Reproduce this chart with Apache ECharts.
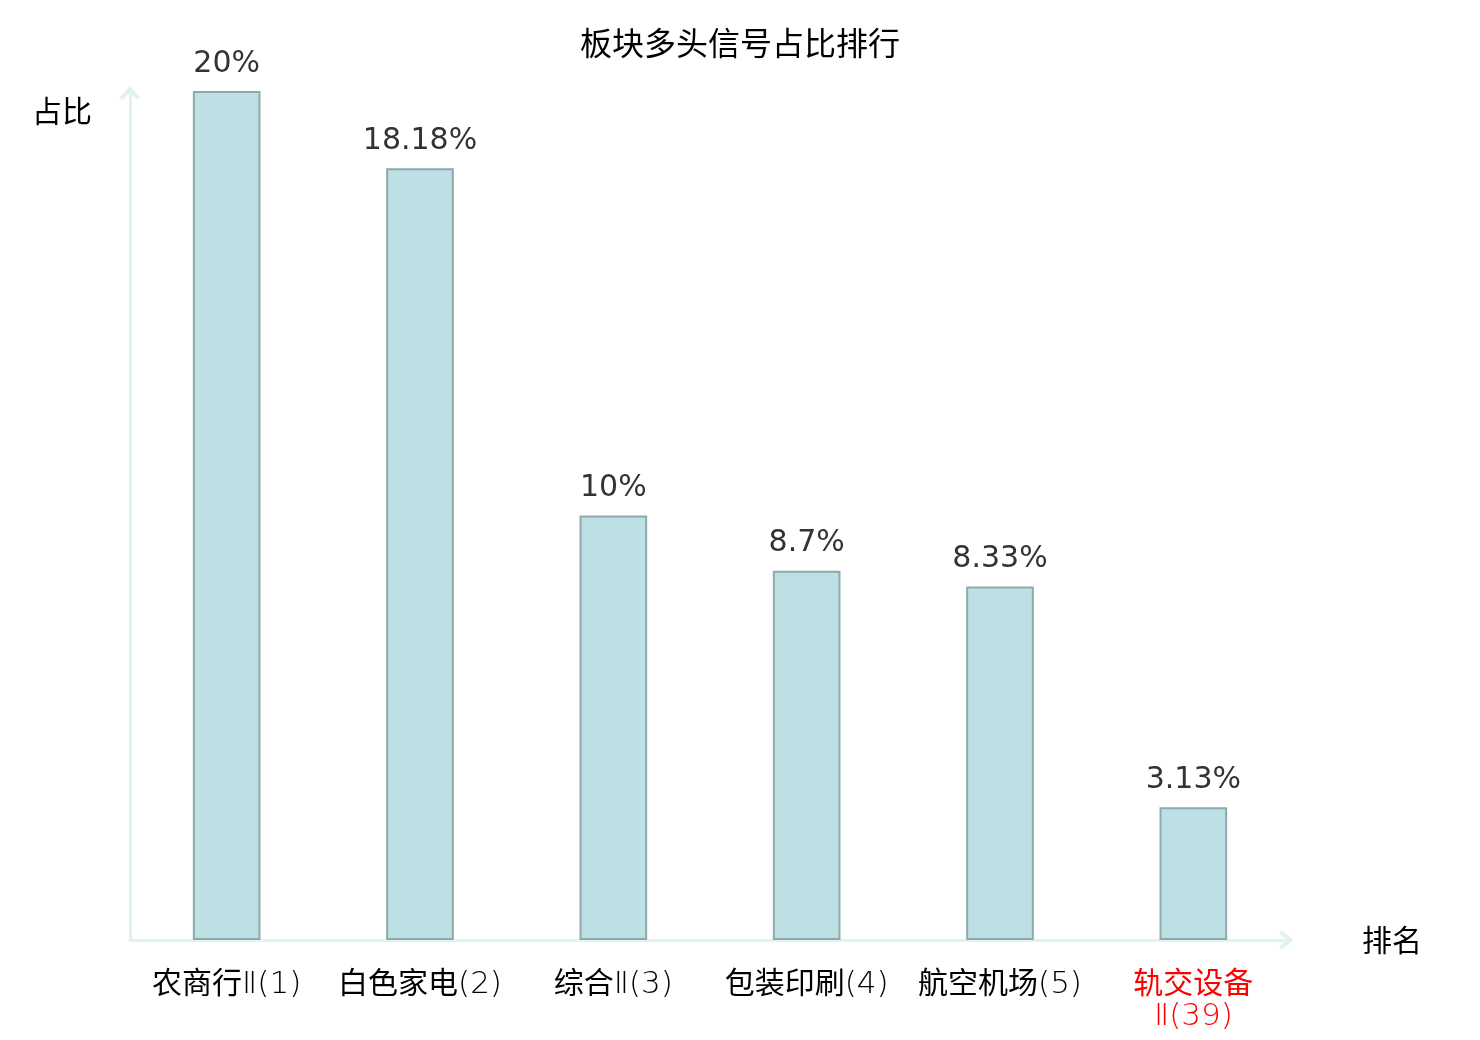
<!DOCTYPE html>
<html>
<head>
<meta charset="utf-8">
<script src="https://cdn.jsdelivr.net/npm/echarts@6/dist/echarts.min.js"></script>
<style>
  html, body { margin: 0; padding: 0; background: #fff; }
  #chart { width: 1480px; height: 1040px; }
</style>
</head>
<body>
<div id="chart"></div>
<script>
const categories = ['农商行Ⅱ(1)', '白色家电(2)', '综合Ⅱ(3)', '包装印刷(4)', '航空机场(5)', '轨交设备\nⅡ(39)'];
const values = [20, 18.18, 10, 8.7, 8.33, 3.13];
const highlightIndex = 5;

const axisColor = '#e0f3f1';
const cjkFont = '"Noto Sans CJK SC", sans-serif';
const latinFont = '"DejaVu Sans", "Noto Sans CJK SC", sans-serif';
// open chevron pointing up, rotated by echarts along the axis
const chevron = 'path://M0,11 L10,0 L20,11 L16.8,13.5 L10,6 L3.2,13.5 Z';

// wrap the latin/roman part of a label in a thin style, keep the CJK part as is
function labelText(v, i) {
  const red = i === highlightIndex;
  return v.split('\n').map(function (line) {
    return line.replace(/[^\u4e00-\u9fff]+/g, function (s) {
      return '{' + (red ? 'lr' : 'l') + '|' + s + '}';
    }).replace(/([\u4e00-\u9fff]+)/g, function (s) {
      return '{' + (red ? 'cr' : 'c') + '|' + s + '}';
    });
  }).join('\n');
}

const thin = { fontSize: 31, lineHeight: 32, fontFamily: '"DejaVu Sans"', fontWeight: 200, padding: [6, 0, 0, 0] };

const chart = echarts.init(document.getElementById('chart'), null, { renderer: 'canvas' });

chart.setOption({
  animation: false,
  title: {
    text: '板块多头信号占比排行',
    left: 'center',
    top: 22,
    textStyle: { fontSize: 32, fontWeight: 'normal', color: '#000', fontFamily: cjkFont }
  },
  grid: { left: 130, right: 190, top: 91, bottom: 100 },
  xAxis: {
    type: 'category',
    data: categories,
    name: '排名',
    nameLocation: 'end',
    nameGap: 72,
    nameTextStyle: { fontSize: 30, color: '#000', fontFamily: cjkFont, padding: [6, 0, 0, 0] },
    axisLine: {
      lineStyle: { color: axisColor, width: 3 },
      symbol: ['none', chevron],
      symbolSize: [24, 14],
      symbolOffset: [0, -4]
    },
    axisTick: { show: false },
    axisLabel: {
      interval: 0,
      margin: 26,
      fontSize: 30,
      lineHeight: 32,
      formatter: labelText,
      rich: {
        c: { fontSize: 30, lineHeight: 32, fontFamily: cjkFont, color: '#000' },
        l: Object.assign({ color: '#000' }, thin),
        cr: { fontSize: 30, lineHeight: 32, fontFamily: cjkFont, color: '#f00' },
        lr: Object.assign({ color: '#f00' }, thin)
      }
    }
  },
  yAxis: {
    type: 'value',
    min: 0,
    max: 20,
    name: '占比',
    nameLocation: 'end',
    nameGap: -20,
    nameTextStyle: { fontSize: 30, color: '#000', fontFamily: cjkFont, align: 'right', verticalAlign: 'middle', padding: [0, 38, 0, 0] },
    axisLine: {
      show: true,
      lineStyle: { color: axisColor, width: 3 },
      symbol: ['none', chevron],
      symbolSize: [24, 14],
      symbolOffset: [0, -2]
    },
    axisTick: { show: false },
    axisLabel: { show: false },
    splitLine: { show: false }
  },
  series: [{
    type: 'bar',
    data: values,
    barWidth: '35%',
    itemStyle: { color: '#bce0e3', borderColor: '#8fa9aa', borderWidth: 2 },
    label: {
      show: true,
      position: 'top',
      distance: 12,
      fontSize: 30,
      color: '#333',
      fontFamily: latinFont,
      formatter: '{c}%'
    }
  }]
});
</script>
</body>
</html>
